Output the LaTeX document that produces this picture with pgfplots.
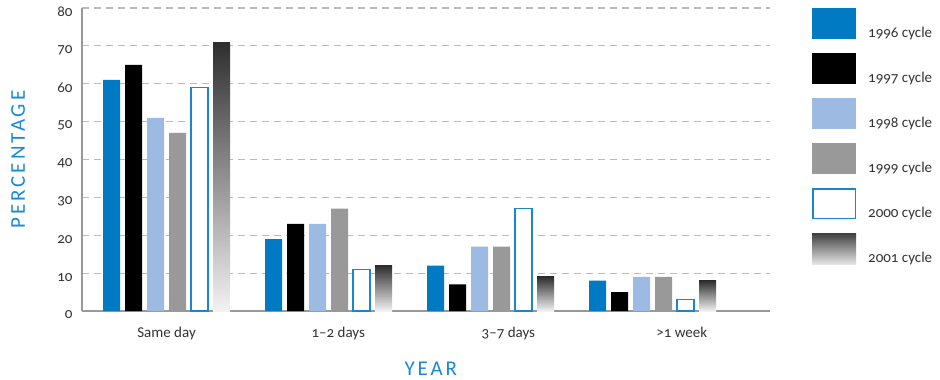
\documentclass[border=0pt]{standalone}
\usepackage{fontspec}
\setmainfont{Carlito}[Numbers=OldStyle]
\newfontfamily\spacedfont{Carlito}[LetterSpace=14]
\usepackage{pgfplots}
\pgfplotsset{compat=1.18}
\definecolor{cA}{HTML}{007AC2}
\definecolor{cC}{HTML}{9DBBE2}
\definecolor{cD}{HTML}{999999}
\definecolor{cE}{HTML}{1A86CC}
\definecolor{lab}{HTML}{1A8AD0}
\definecolor{txt}{HTML}{333333}
\definecolor{gridc}{HTML}{BBBBBB}
\definecolor{axc}{HTML}{999999}
\begin{document}
\begin{tikzpicture}
\useasboundingbox (-82pt,-69pt) rectangle (858pt,311pt);
\begin{axis}[
  scale only axis, width=688pt, height=303pt,
  xmin=-0.522, xmax=3.725, ymin=0, ymax=80,
  ytick={0,10,...,80},
  xtick={0,1.06,2.11,3.18},
  xticklabels={Same day,1–2 days,3–7 days,>1 week},
  axis x line*=bottom, axis y line*=left,
  axis line style={axc, line width=2pt, -},
  major tick length=0pt,
  ymajorgrids,
  grid style={gridc, line width=1.2pt, dash pattern=on 7pt off 5pt},
  ybar, bar width=17pt,
  /pgf/number format/assume math mode=true,
  tick label style={font=\fontsize{15}{17}\selectfont, text=txt},
  yticklabel style={xshift=-6pt, yshift=-4pt},
  xticklabel style={yshift=-13pt},
  xlabel={\spacedfont\fontsize{21}{23}\selectfont YEAR},
  ylabel={\spacedfont\fontsize{21}{23}\selectfont PERCENTAGE},
  xlabel style={at={(axis description cs:0.507,-0.19)}, anchor=center, text=lab},
  ylabel style={at={(axis description cs:-0.093,0.5)}, anchor=center, text=lab, rotate=0},
  legend style={at={(1.061,1)}, anchor=north west, draw=none, fill=none,
    inner sep=0pt, row sep=14pt, column sep=12pt,
    font=\fontsize{15}{17}\selectfont, text=txt, nodes={inner sep=0pt}},
  legend cell align=left,
]
\addplot[bar shift=-55pt, fill=cA, draw=none, legend image code/.code={\fill[cA] (0pt,-6pt) rectangle (44pt,25pt);}]
  coordinates {(0,61) (1,19) (2,12) (3,8)};
\addlegendentry{1996 cycle}
\addplot[bar shift=-33pt, fill=black, draw=none, legend image code/.code={\fill[black] (0pt,-6pt) rectangle (44pt,25pt);}]
  coordinates {(0,65) (1,23) (2,7) (3,5)};
\addlegendentry{1997 cycle}
\addplot[bar shift=-11pt, fill=cC, draw=none, legend image code/.code={\fill[cC] (0pt,-6pt) rectangle (44pt,25pt);}]
  coordinates {(0,51) (1,23) (2,17) (3,9)};
\addlegendentry{1998 cycle}
\addplot[bar shift=11pt, fill=cD, draw=none, legend image code/.code={\fill[cD] (0pt,-6pt) rectangle (44pt,25pt);}]
  coordinates {(0,47) (1,27) (2,17) (3,9)};
\addlegendentry{1999 cycle}
\addplot[bar shift=33pt, fill=white, draw=cE, line width=1.5pt, legend image code/.code={\filldraw[fill=white, draw=cE, line width=1.5pt] (0.75pt,-5.25pt) rectangle (43.25pt,24.25pt);}]
  coordinates {(0,59) (1,11) (2,27) (3,3)};
\addlegendentry{2000 cycle}
\addplot[bar shift=55pt, top color=black!82, bottom color=black!5, draw=none, legend image code/.code={\shade[top color=black!75, bottom color=black!10] (0pt,-6pt) rectangle (44pt,25pt);}]
  coordinates {(0,71)};
\addlegendentry{2001 cycle}
\addplot[bar shift=55pt, top color=black!82, bottom color=black!5, draw=none, forget plot]
  coordinates {(1,12)};
\addplot[bar shift=55pt, top color=black!82, bottom color=black!5, draw=none, forget plot]
  coordinates {(2,9)};
\addplot[bar shift=55pt, top color=black!82, bottom color=black!5, draw=none, forget plot]
  coordinates {(3,8)};
\end{axis}
\end{tikzpicture}
\end{document}
